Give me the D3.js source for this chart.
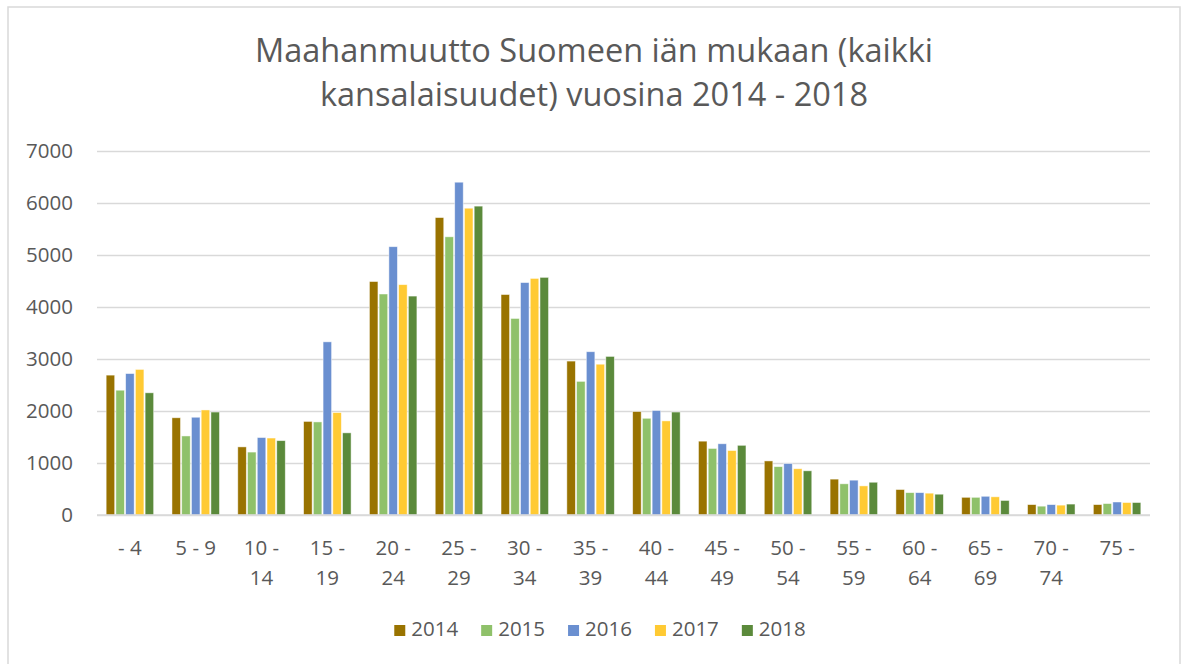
<!DOCTYPE html>
<html>
<head>
<meta charset="utf-8">
<script src="https://cdn.jsdelivr.net/npm/d3@7"></script>
<style>
  body { margin: 0; background: #fff; }
  text { font-family: "Open Sans", "Noto Sans", sans-serif; fill: #595959; }
</style>
</head>
<body>
<div id="chart"></div>
<script>
var width = 1186, height = 664;

// age groups and yearly counts
var ages = ["- 4", "5 - 9", "10 - 14", "15 - 19", "20 - 24", "25 - 29", "30 - 34", "35 - 39",
            "40 - 44", "45 - 49", "50 - 54", "55 - 59", "60 - 64", "65 - 69", "70 - 74", "75 -"];
var years = ["2014", "2015", "2016", "2017", "2018"];
var v2014 = [2690, 1870, 1310, 1800, 4490, 5720, 4240, 2960, 1990, 1420, 1040, 690, 490, 340, 200, 200];
var v2015 = [2400, 1520, 1210, 1790, 4250, 5350, 3780, 2570, 1860, 1280, 930, 600, 430, 340, 170, 220];
var v2016 = [2720, 1880, 1490, 3330, 5160, 6400, 4470, 3140, 2010, 1370, 990, 670, 430, 360, 200, 250];
var v2017 = [2800, 2020, 1480, 1970, 4430, 5900, 4550, 2900, 1810, 1240, 890, 560, 420, 350, 190, 240];
var v2018 = [2350, 1980, 1430, 1580, 4210, 5940, 4570, 3050, 1980, 1340, 850, 630, 400, 280, 210, 240];
var yTicks = [0, 1000, 2000, 3000, 4000, 5000, 6000, 7000];
var colors = ["#997300", "#8fc16a", "#6a8fd0", "#ffca33", "#5b8a3b"];
var titleLines = ["Maahanmuutto Suomeen iän mukaan (kaikki", "kansalaisuudet) vuosina 2014 - 2018"];

var series = [v2014, v2015, v2016, v2017, v2018];

var svg = d3.select("#chart").append("svg")
    .attr("width", width)
    .attr("height", height);

// chart frame
svg.append("rect")
    .attr("x", 8).attr("y", 7)
    .attr("width", 1172).attr("height", 680)
    .attr("fill", "#fff")
    .attr("stroke", "#d9d9d9")
    .attr("stroke-width", 1.5);

var plot = { left: 97, right: 1150, top: 151, bottom: 515 };

var x = d3.scaleBand().domain(ages).range([plot.left, plot.right]).paddingInner(0.26).paddingOuter(0.13);
var xs = d3.scaleBand().domain(years).range([0, x.bandwidth()]);
var y = d3.scaleLinear().domain([0, 7000]).range([plot.bottom, plot.top]);

// title
svg.append("g").selectAll("text")
    .data(titleLines)
    .enter().append("text")
    .attr("x", 594)
    .attr("y", function (d, i) { return 62 + i * 44; })
    .attr("text-anchor", "middle")
    .attr("font-size", 32.5)
    .text(function (d) { return d; });

// gridlines + y labels
var yAxis = d3.axisLeft(y).tickValues(yTicks).tickFormat(d3.format("d"))
    .tickSize(-(plot.right - plot.left)).tickPadding(24);
var gy = svg.append("g").attr("transform", "translate(" + plot.left + ",0)").call(yAxis);
gy.select(".domain").remove();
gy.selectAll(".tick line").attr("stroke", "#d9d9d9").attr("stroke-width", 1.5);
gy.selectAll(".tick text").attr("font-size", 20.5).attr("fill", "#595959")
    .attr("font-family", "Open Sans, Noto Sans, sans-serif");

// bars
var groups = svg.append("g").selectAll("g")
    .data(ages)
    .enter().append("g")
    .attr("transform", function (d) { return "translate(" + x(d) + ",0)"; });

groups.selectAll("rect")
    .data(function (d, i) { return years.map(function (yr, j) { return { yr: yr, v: series[j][i], c: colors[j] }; }); })
    .enter().append("rect")
    .attr("x", function (d) { return xs(d.yr) + 0.6; })
    .attr("width", xs.bandwidth() - 1.2)
    .attr("y", function (d) { return y(d.v); })
    .attr("height", function (d) { return y(0) - y(d.v); })
    .attr("fill", function (d) { return d.c; })
    .attr("stroke", "#fff")
    .attr("stroke-opacity", 0.6)
    .attr("stroke-width", 0.8);

// baseline
svg.append("line")
    .attr("x1", plot.left).attr("x2", plot.right)
    .attr("y1", y(0)).attr("y2", y(0))
    .attr("stroke", "#d9d9d9").attr("stroke-width", 1.5);

// x labels (wrapped like the original)
var xl = svg.append("g").selectAll("text")
    .data(ages)
    .enter().append("text")
    .attr("text-anchor", "middle")
    .attr("font-size", 20.5)
    .attr("x", function (d) { return x(d) + x.bandwidth() / 2; })
    .attr("y", 555);
xl.each(function (d) {
    var parts = d.split(" ");
    var lines = d.length > 5 ? [parts.slice(0, parts.length - 1).join(" "), parts[parts.length - 1]] : [d];
    var t = d3.select(this);
    lines.forEach(function (l, i) {
        t.append("tspan")
            .attr("x", x(d) + x.bandwidth() / 2)
            .attr("dy", i === 0 ? 0 : 30)
            .text(l);
    });
});

// legend
var legend = svg.append("g");
var lx = 0;
years.forEach(function (yr, j) {
    var item = legend.append("g").attr("transform", "translate(" + lx + ",0)");
    item.append("rect").attr("x", 0).attr("y", -11).attr("width", 11).attr("height", 11).attr("fill", colors[j]);
    var t = item.append("text").attr("x", 17).attr("y", 0).attr("font-size", 20.5).text(yr);
    lx += 17 + t.node().getComputedTextLength() + 23;
});
var lw = lx - 23;
legend.attr("transform", "translate(" + (600 - lw / 2) + ",636)");
</script>
</body>
</html>
